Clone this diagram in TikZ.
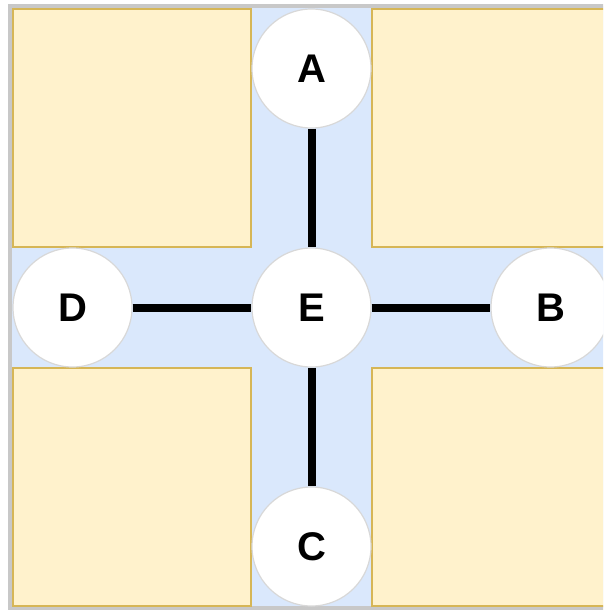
\documentclass[tikz,border=0pt]{standalone}
\usepackage{fontspec}
\setmainfont{Liberation Sans}
\definecolor{bgblue}{HTML}{DAE8FC}
\definecolor{bggrey}{HTML}{C8C8C8}
\definecolor{yfill}{HTML}{FFF2CC}
\definecolor{ystroke}{HTML}{D6B656}
\definecolor{cstroke}{HTML}{D8D8D8}
\tikzset{
  block/.style={fill=yfill, draw=ystroke, line width=2pt},
  hub/.style={circle, fill=white, draw=cstroke, line width=1.2pt, minimum size=119pt, inner sep=0pt,
    font=\fontsize{40}{40}\selectfont\bfseries},
  link/.style={line width=8pt, black}
}
\begin{document}
\begin{tikzpicture}[x=1pt,y=-1pt]
\useasboundingbox (0,0) rectangle (603,610);
\clip (0,0) rectangle (603,610);
\fill[white] (0,0) rectangle (603,610);
\draw[fill=bgblue, draw=bggrey, line width=4pt] (10,6) rectangle (640,608);
\draw[block] (13,9) rectangle (251,247);
\draw[block] (372,9) rectangle (640,247);
\draw[block] (13,368) rectangle (251,606);
\draw[block] (372,368) rectangle (640,606);
\node[hub] (A) at (311.5,68.5) {A};
\node[hub] (E) at (311.5,307.5) {E};
\node[hub] (C) at (311.5,546.5) {C};
\node[hub] (D) at (72.5,307.5) {D};
\node[hub] (B) at (550.5,307.5) {B};
\draw[link] (A) -- (E);
\draw[link] (E) -- (C);
\draw[link] (D) -- (E);
\draw[link] (E) -- (B);
\end{tikzpicture}
\end{document}
